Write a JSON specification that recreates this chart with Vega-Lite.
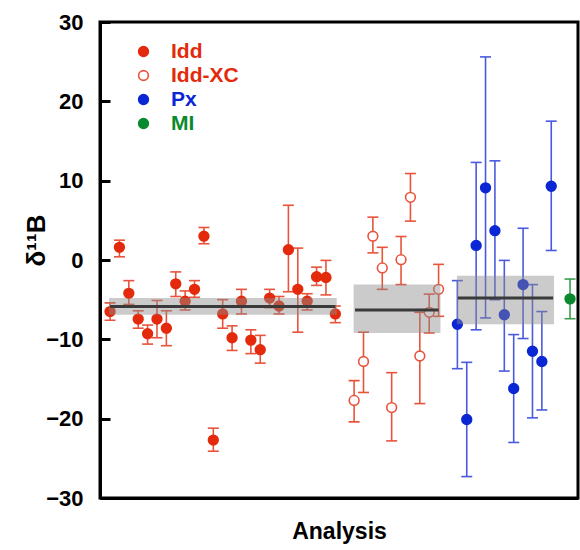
{
  "$schema": "https://vega.github.io/schema/vega-lite/v6.json",
  "width": 478,
  "height": 476,
  "autosize": {"type": "none"},
  "padding": {"left": 100, "top": 22, "right": 2, "bottom": 52},
  "background": "white",
  "config": {
    "font": "Liberation Sans",
    "view": {"stroke": "black", "strokeWidth": 3},
    "axisY": {
      "labelFont": "Liberation Sans", "labelFontWeight": "bold", "labelFontSize": 22, "labelColor": "black",
      "tickSize": -10, "tickWidth": 3, "tickColor": "black", "domainColor": "black", "domainWidth": 3,
      "labelPadding": 27, "grid": false, "tickCount": 7,
      "titleFont": "Liberation Sans", "titleFontSize": 26, "titleFontWeight": "bold", "titleColor": "black",
      "titleAngle": 270, "titleX": -56, "titleY": 218, "titleAlign": "center", "titleBaseline": "alphabetic"
    },
    "axisX": {
      "labels": false, "ticks": false, "grid": false, "domainColor": "black", "domainWidth": 3,
      "titleFont": "Liberation Sans", "titleFontSize": 23, "titleFontWeight": "bold", "titleColor": "black", "titlePadding": 22
    },
    "legend": {
      "padding": 0,
      "labelFont": "Liberation Sans", "labelFontSize": 21, "labelFontWeight": "bold", "labelOffset": 17,
      "rowPadding": 2, "symbolSize": 95, "symbolStrokeWidth": 1.6
    }
  },
  "datasets": {
    "pts": [
      {"i": 1, "series": "Idd", "v": -6.5, "lo": -7.6, "hi": -5.4},
      {"i": 2, "series": "Idd", "v": 1.6, "lo": 0.4, "hi": 2.5},
      {"i": 3, "series": "Idd", "v": -4.2, "lo": -5.6, "hi": -2.6},
      {"i": 4, "series": "Idd", "v": -7.45, "lo": -8.6, "hi": -6.4},
      {"i": 5, "series": "Idd", "v": -9.3, "lo": -10.6, "hi": -8.2},
      {"i": 6, "series": "Idd", "v": -7.45, "lo": -9.8, "hi": -5.1},
      {"i": 7, "series": "Idd", "v": -8.6, "lo": -10.8, "hi": -6.4},
      {"i": 8, "series": "Idd", "v": -3.0, "lo": -4.6, "hi": -1.5},
      {"i": 9, "series": "Idd", "v": -5.2, "lo": -6.3, "hi": -3.9},
      {"i": 10, "series": "Idd", "v": -3.7, "lo": -4.7, "hi": -2.6},
      {"i": 11, "series": "Idd", "v": 3.0, "lo": 2.05, "hi": 4.1},
      {"i": 12, "series": "Idd", "v": -22.7, "lo": -24.1, "hi": -21.2},
      {"i": 13, "series": "Idd", "v": -6.8, "lo": -8.6, "hi": -5.0},
      {"i": 14, "series": "Idd", "v": -9.8, "lo": -11.4, "hi": -8.3},
      {"i": 15, "series": "Idd", "v": -5.2, "lo": -6.8, "hi": -3.7},
      {"i": 16, "series": "Idd", "v": -10.1, "lo": -11.8, "hi": -8.8},
      {"i": 17, "series": "Idd", "v": -11.3, "lo": -13.0, "hi": -9.5},
      {"i": 18, "series": "Idd", "v": -4.8, "lo": -6.0, "hi": -3.7},
      {"i": 19, "series": "Idd", "v": -5.8, "lo": -6.8, "hi": -4.6},
      {"i": 20, "series": "Idd", "v": 1.3, "lo": -4.0, "hi": 6.9},
      {"i": 21, "series": "Idd", "v": -3.7, "lo": -9.1, "hi": 1.5},
      {"i": 22, "series": "Idd", "v": -5.2, "lo": -6.3, "hi": -4.25},
      {"i": 23, "series": "Idd", "v": -2.1, "lo": -3.2, "hi": -0.9},
      {"i": 24, "series": "Idd", "v": -2.2, "lo": -4.4, "hi": -0.05},
      {"i": 25, "series": "Idd", "v": -6.8, "lo": -7.9, "hi": -5.8},
      {"i": 27, "series": "Idd-XC", "v": -17.7, "lo": -20.4, "hi": -15.2},
      {"i": 28, "series": "Idd-XC", "v": -12.8, "lo": -16.7, "hi": -9.1},
      {"i": 29, "series": "Idd-XC", "v": 3.0, "lo": 0.9, "hi": 5.4},
      {"i": 30, "series": "Idd-XC", "v": -1.0, "lo": -3.7, "hi": 1.6},
      {"i": 31, "series": "Idd-XC", "v": -18.6, "lo": -22.8, "hi": -14.2},
      {"i": 32, "series": "Idd-XC", "v": 0.04, "lo": -3.1, "hi": 2.96},
      {"i": 33, "series": "Idd-XC", "v": 7.9, "lo": 4.9, "hi": 10.9},
      {"i": 34, "series": "Idd-XC", "v": -12.1, "lo": -18.1, "hi": -6.6},
      {"i": 35, "series": "Idd-XC", "v": -6.6, "lo": -9.2, "hi": -4.3},
      {"i": 36, "series": "Idd-XC", "v": -3.7, "lo": -7.1, "hi": -0.55},
      {"i": 38, "series": "Px", "v": -8.1, "lo": -13.7, "hi": -2.6},
      {"i": 39, "series": "Px", "v": -20.1, "lo": -27.3, "hi": -12.9},
      {"i": 40, "series": "Px", "v": 1.84, "lo": -8.8, "hi": 12.3},
      {"i": 41, "series": "Px", "v": 9.1, "lo": -7.3, "hi": 25.6},
      {"i": 42, "series": "Px", "v": 3.7, "lo": -5.0, "hi": 12.5},
      {"i": 43, "series": "Px", "v": -6.9, "lo": -14.0, "hi": -0.05},
      {"i": 44, "series": "Px", "v": -16.2, "lo": -23.0, "hi": -9.4},
      {"i": 45, "series": "Px", "v": -3.1, "lo": -9.9, "hi": 4.0},
      {"i": 46, "series": "Px", "v": -11.5, "lo": -19.9, "hi": -3.1},
      {"i": 47, "series": "Px", "v": -12.8, "lo": -18.9, "hi": -6.5},
      {"i": 48, "series": "Px", "v": 9.3, "lo": 1.2, "hi": 17.5},
      {"i": 50, "series": "MI", "v": -4.9, "lo": -7.4, "hi": -2.4}
    ],
    "sum": [
      {"group": "Idd", "bx1": 0.9, "bx2": 25.15, "lx1": 1, "lx2": 25, "mean": -5.85, "lo": -6.9, "hi": -4.8},
      {"group": "Idd-XC", "bx1": 26.95, "bx2": 36.2, "lx1": 27.1, "lx2": 36.0, "mean": -6.3, "lo": -9.2, "hi": -3.1},
      {"group": "Px", "bx1": 37.95, "bx2": 48.3, "lx1": 38.05, "lx2": 48.2, "mean": -4.8, "lo": -8.1, "hi": -2.0}
    ]
  },
  "layer": [
    {
      "data": {"name": "pts"},
      "mark": {"type": "rule", "strokeWidth": 1.6},
      "encoding": {
        "x": {"field": "i", "type": "quantitative", "title": "Analysis", "scale": {"domain": [-0.07, 50.85], "nice": false, "zero": false}},
        "y": {"field": "lo", "type": "quantitative", "title": "δ¹¹B", "scale": {"domain": [-30, 30], "nice": false}},
        "y2": {"field": "hi"},
        "color": {"field": "series", "type": "nominal", "scale": {"domain": ["MI", "Px", "Idd-XC", "Idd"], "range": ["#3a9e50", "#4a5ade", "#e9533c", "#e9533c"]}, "legend": null}
      }
    },
    {
      "data": {"name": "pts"},
      "mark": {"type": "tick", "orient": "horizontal", "size": 11, "thickness": 1.6, "opacity": 1},
      "encoding": {
        "x": {"field": "i", "type": "quantitative", "title": "Analysis"},
        "y": {"field": "lo", "type": "quantitative", "title": "δ¹¹B"},
        "color": {"field": "series", "type": "nominal", "legend": null}
      }
    },
    {
      "data": {"name": "pts"},
      "mark": {"type": "tick", "orient": "horizontal", "size": 11, "thickness": 1.6, "opacity": 1},
      "encoding": {
        "x": {"field": "i", "type": "quantitative", "title": "Analysis"},
        "y": {"field": "hi", "type": "quantitative", "title": "δ¹¹B"},
        "color": {"field": "series", "type": "nominal", "legend": null}
      }
    },
    {
      "data": {"name": "pts"},
      "mark": {"type": "point", "shape": "circle", "size": 95, "strokeWidth": 1.6, "opacity": 1},
      "encoding": {
        "x": {"field": "i", "type": "quantitative", "title": "Analysis"},
        "y": {"field": "v", "type": "quantitative", "title": "δ¹¹B"},
        "fill": {"field": "series", "type": "nominal", "title": null,
          "scale": {"domain": ["Idd", "Idd-XC", "Px", "MI"], "range": ["#e42a0c", "#ffffff", "#0b26d4", "#0a8a2e"]},
          "legend": {"orient": "none", "legendX": 33, "legendY": 19,
            "labelColor": {"expr": "datum.label == 'Px' ? '#0b26d4' : datum.label == 'MI' ? '#0a8a2e' : '#e42a0c'"}}},
        "stroke": {"field": "series", "type": "nominal", "title": null,
          "scale": {"domain": ["Idd", "Idd-XC", "Px", "MI"], "range": ["#e42a0c", "#e9533c", "#0b26d4", "#0a8a2e"]},
          "legend": {"orient": "none", "legendX": 33, "legendY": 19,
            "labelColor": {"expr": "datum.label == 'Px' ? '#0b26d4' : datum.label == 'MI' ? '#0a8a2e' : '#e42a0c'"}}}
      }
    },
    {
      "data": {"name": "sum"},
      "mark": {"type": "rect", "color": "#8c8c8c", "opacity": 0.45},
      "encoding": {
        "x": {"field": "bx1", "type": "quantitative", "title": "Analysis"},
        "x2": {"field": "bx2"},
        "y": {"field": "lo", "type": "quantitative", "title": "δ¹¹B"},
        "y2": {"field": "hi"}
      }
    },
    {
      "data": {"name": "sum"},
      "mark": {"type": "rule", "color": "#3a3a3a", "strokeWidth": 3},
      "encoding": {
        "x": {"field": "lx1", "type": "quantitative", "title": "Analysis"},
        "x2": {"field": "lx2"},
        "y": {"field": "mean", "type": "quantitative", "title": "δ¹¹B"}
      }
    }
  ]
}
